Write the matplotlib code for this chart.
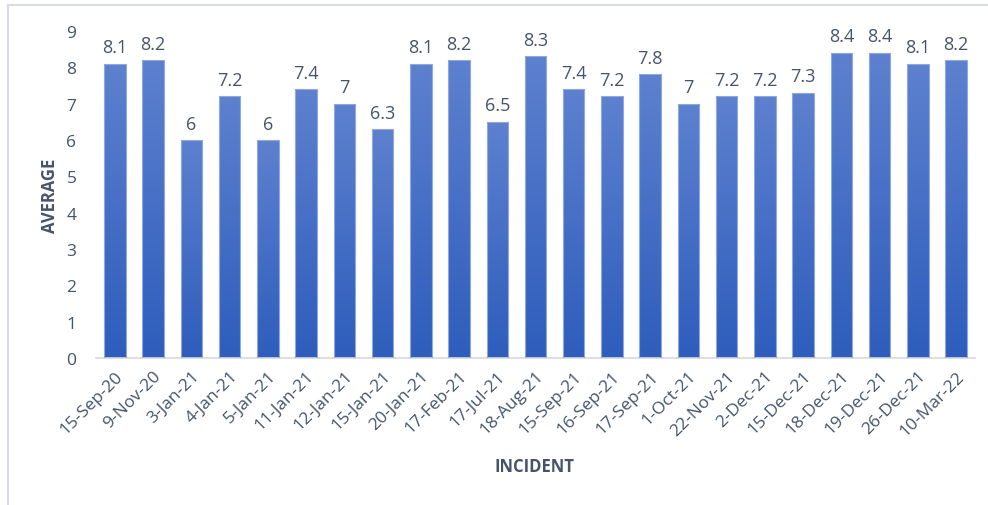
import numpy as np
import matplotlib
matplotlib.use('Agg')
import matplotlib.pyplot as plt
from matplotlib.colors import LinearSegmentedColormap
from matplotlib.lines import Line2D

incidents = ['15-Sep-20', '9-Nov-20', '3-Jan-21', '4-Jan-21', '5-Jan-21', '11-Jan-21',
             '12-Jan-21', '15-Jan-21', '20-Jan-21', '17-Feb-21', '17-Jul-21', '18-Aug-21',
             '15-Sep-21', '16-Sep-21', '17-Sep-21', '1-Oct-21', '22-Nov-21', '2-Dec-21',
             '15-Dec-21', '18-Dec-21', '19-Dec-21', '26-Dec-21', '10-Mar-22']
averages = [8.1, 8.2, 6, 7.2, 6, 7.4, 7, 6.3, 8.1, 8.2, 6.5, 8.3,
            7.4, 7.2, 7.8, 7, 7.2, 7.2, 7.3, 8.4, 8.4, 8.1, 8.2]

text_color = '#44546a'
plt.rcParams['font.family'] = ['Open Sans', 'DejaVu Sans']

fig = plt.figure(figsize=(9.88, 5.06), dpi=100)
ax = fig.add_axes([0.097, 0.2905, 0.89, 0.6465])

x = np.arange(len(incidents))
bars = ax.bar(x, averages, width=0.56, color='none', edgecolor='#8fa9e0', linewidth=0.8, zorder=3)

cmap = LinearSegmentedColormap.from_list('grad', ['#2e5dbc', '#5d81cf'])
grad = np.linspace(0, 1, 256).reshape(-1, 1)
for b in bars:
    x0, w, h = b.get_x(), b.get_width(), b.get_height()
    im = ax.imshow(grad, cmap=cmap, origin='lower', aspect='auto',
                   extent=[x0, x0 + w, 0, h], zorder=2)
    im.set_clip_path(b)

for xi, v in zip(x, averages):
    ax.text(xi, v + 0.2, '{:g}'.format(v), ha='center', va='bottom',
            fontsize=13, color=text_color)

ax.set_xlim(-0.5, len(incidents) - 0.5)
ax.set_ylim(0, 9)
ax.set_yticks(range(0, 10))
ax.set_xticks(x)
ax.set_xticklabels(incidents, rotation=45, ha='right', rotation_mode='anchor')
ax.tick_params(axis='x', length=0, labelsize=12.5, colors=text_color, pad=7)
ax.tick_params(axis='y', length=0, labelsize=12.5, colors=text_color, pad=14)

for s in ['top', 'right', 'left']:
    ax.spines[s].set_visible(False)
ax.spines['bottom'].set_color('#d9d9d9')
ax.spines['bottom'].set_linewidth(1.2)

ax.set_ylabel('AVERAGE', fontsize=12, fontweight='bold', color=text_color, labelpad=5)
fig.text(0.541, 0.077, 'INCIDENT', fontsize=12, fontweight='bold', color=text_color,
         ha='center', va='center')

# outer frame (left and top edges visible)
fig.add_artist(Line2D([0.008, 0.008], [0.0, 0.988], transform=fig.transFigure,
                      color='#d9dde3', linewidth=1.5))
fig.add_artist(Line2D([0.008, 1.0], [0.988, 0.988], transform=fig.transFigure,
                      color='#d9dde3', linewidth=1.5))

fig.savefig('out.png', dpi=100)
